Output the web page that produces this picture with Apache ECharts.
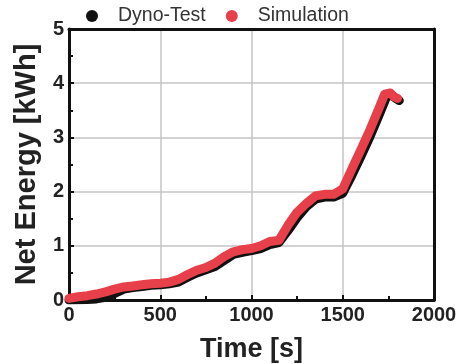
<!DOCTYPE html>
<html><head><meta charset="utf-8">
<script src="https://cdn.jsdelivr.net/npm/echarts@6/dist/echarts.min.js"></script>
<style>html,body{margin:0;padding:0;background:#fff}#c{width:462px;height:364px}</style>
</head><body><div id="c"></div>
<script>
const seriesNames = ['Dyno-Test', 'Simulation'];
const dynoTime = [0,100,150,200,250,300,350,400,450,500,550,600,650,700,750,800,850,900,950,1000,1050,1100,1150,1200,1250,1300,1350,1400,1450,1500,1550,1600,1650,1700,1740,1770,1790,1810];
const dynoEnergy = [0.0,0.01,0.02,0.05,0.12,0.2,0.23,0.25,0.27,0.28,0.3,0.33,0.42,0.5,0.56,0.62,0.73,0.84,0.88,0.91,0.95,1.02,1.06,1.28,1.52,1.72,1.86,1.9,1.9,1.97,2.3,2.65,3.02,3.42,3.75,3.78,3.72,3.68];
const simTime = [0,50,100,150,200,250,300,350,400,450,500,550,600,650,700,750,800,850,900,950,1000,1050,1100,1150,1200,1250,1300,1350,1400,1450,1500,1550,1600,1650,1700,1730,1760,1780,1800];
const simEnergy = [0.03,0.06,0.08,0.11,0.15,0.2,0.24,0.26,0.28,0.3,0.31,0.33,0.38,0.47,0.55,0.6,0.68,0.8,0.89,0.93,0.95,1.0,1.08,1.1,1.38,1.62,1.78,1.92,1.95,1.95,2.05,2.42,2.78,3.15,3.55,3.8,3.82,3.75,3.72];
const xTicks = [0,500,1000,1500,2000];
const yTicks = [0,1,2,3,4,5];

const pair = (xs, ys) => xs.map((x, i) => [x, ys[i]]);
const chart = echarts.init(document.getElementById('c'));
const font = 'Liberation Sans, Arial, sans-serif';
const frame = {show: true, onZero: false, lineStyle: {color: '#111', width: 3}};
const labelStyle = {fontFamily: font, fontSize: 20, fontWeight: 'bold', color: '#222', formatter: v => String(v)};
const tickStyle = {show: true, inside: true, length: 5, lineStyle: {color: '#111', width: 2}};
const minorStyle = {show: true, splitNumber: 2, length: 4, lineStyle: {color: '#111', width: 2}};
const gridLine = {show: true, lineStyle: {color: '#c4c4c4', width: 1.5}};
chart.setOption({
  animation: false,
  legend: {
    left: 81, top: 1, icon: 'circle', itemWidth: 12, itemHeight: 12, itemGap: 20,
    textStyle: {fontFamily: font, fontSize: 19.5, color: '#333', padding: [0, 0, 0, 15]},
    data: seriesNames
  },
  grid: {left: 69, right: 28, top: 29, bottom: 64, containLabel: false, outerBoundsMode: 'none'},
  xAxis: [{
    type: 'value', min: xTicks[0], max: xTicks[xTicks.length - 1], interval: 500,
    name: 'Time [s]', nameLocation: 'middle', nameGap: 36,
    nameTextStyle: {fontFamily: font, fontSize: 27, fontWeight: 'bold', color: '#222'},
    axisLine: frame, axisTick: tickStyle, minorTick: minorStyle, splitLine: gridLine,
    axisLabel: Object.assign({margin: 5}, labelStyle)
  }, {
    type: 'value', position: 'top', min: xTicks[0], max: xTicks[xTicks.length - 1], interval: 500,
    axisLine: frame, axisTick: {show: false}, axisLabel: {show: false}, splitLine: {show: false}
  }],
  yAxis: [{
    type: 'value', min: yTicks[0], max: yTicks[yTicks.length - 1], interval: 1,
    name: 'Net Energy [kWh]', nameLocation: 'middle', nameGap: 27,
    nameTextStyle: {fontFamily: font, fontSize: 29, fontWeight: 'bold', color: '#222'},
    axisLine: frame, axisTick: tickStyle, minorTick: minorStyle, splitLine: gridLine,
    axisLabel: Object.assign({margin: 5}, labelStyle)
  }, {
    type: 'value', position: 'right', min: yTicks[0], max: yTicks[yTicks.length - 1], interval: 1,
    axisLine: frame, axisTick: {show: false}, axisLabel: {show: false}, splitLine: {show: false}
  }],
  series: [
    {name: seriesNames[0], type: 'line', data: pair(dynoTime, dynoEnergy), showSymbol: false, symbol: 'circle',
     itemStyle: {color: '#111'}, lineStyle: {color: '#111', width: 9, cap: 'round', join: 'round'}, z: 2},
    {name: seriesNames[1], type: 'line', data: pair(simTime, simEnergy), showSymbol: false, symbol: 'circle',
     itemStyle: {color: '#e8404a'}, lineStyle: {color: '#e8404a', width: 9, cap: 'round', join: 'round'}, z: 3}
  ]
});
</script></body></html>
